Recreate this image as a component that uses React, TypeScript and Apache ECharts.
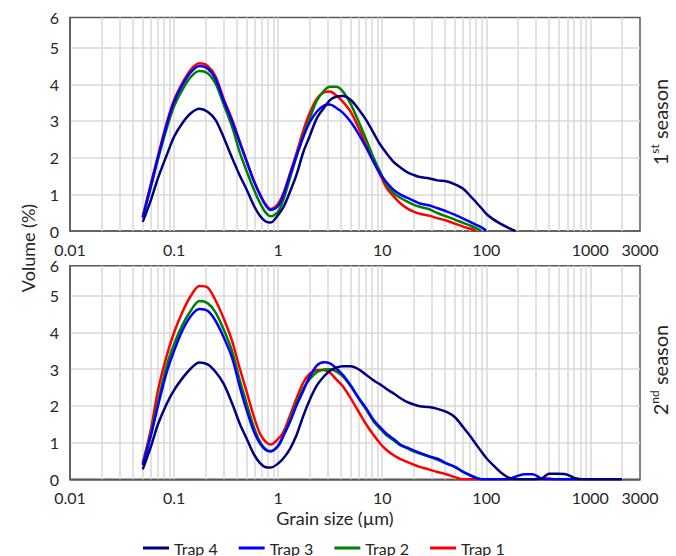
import React, { useEffect, useRef } from "react";
import * as echarts from "echarts";

// Grain sizes (µm) at which curves were read
const sizesSeason1 = [0.05, 0.06, 0.07, 0.085, 0.1, 0.12, 0.145, 0.175, 0.21, 0.25, 0.3, 0.36, 0.43, 0.5, 0.58, 0.67, 0.76, 0.85, 1, 1.13, 1.3, 1.5, 1.75, 2, 2.35, 2.75, 3.15, 3.6, 4.2, 5, 6, 7, 8.3, 9.6, 11, 13, 15, 17.5, 20, 23, 28, 34, 42, 50, 60, 70, 80, 90, 100, 115, 135, 160, 190];
const sizesSeason2 = [0.05, 0.06, 0.07, 0.085, 0.1, 0.12, 0.145, 0.175, 0.21, 0.25, 0.3, 0.36, 0.43, 0.5, 0.58, 0.67, 0.76, 0.85, 1, 1.13, 1.3, 1.5, 1.75, 2, 2.35, 2.75, 3.15, 3.6, 4.2, 5, 6, 7, 8.3, 9.6, 11, 13, 15, 17.5, 20, 23, 28, 34, 42, 50, 60, 70, 80, 90, 100, 115, 135, 160, 190, 230, 280, 340, 400, 480, 580, 700, 850, 1100, 1500, 2000];

// Season 1 volumes (%)
const trap1Season1 = [0.4, 1.3, 2.05, 2.95, 3.57, 4.03, 4.4, 4.57, 4.5, 4.22, 3.6, 3.05, 2.42, 1.9, 1.4, 1.0, 0.72, 0.6, 0.74, 1.05, 1.57, 2.12, 2.75, 3.2, 3.6, 3.78, 3.8, 3.7, 3.52, 3.24, 2.78, 2.36, 1.9, 1.52, 1.18, 0.93, 0.75, 0.61, 0.53, 0.47, 0.42, 0.35, 0.28, 0.2, 0.12, 0.06, 0];
const trap2Season1 = [0.38, 1.2, 1.95, 2.8, 3.4, 3.85, 4.2, 4.36, 4.3, 4.02, 3.45, 2.85, 2.12, 1.62, 1.15, 0.76, 0.5, 0.4, 0.53, 0.87, 1.44, 2.03, 2.62, 3.05, 3.55, 3.82, 3.93, 3.93, 3.8, 3.45, 2.95, 2.5, 1.98, 1.6, 1.27, 1.02, 0.9, 0.8, 0.72, 0.66, 0.6, 0.49, 0.39, 0.31, 0.22, 0.15, 0.08, 0];
const trap3Season1 = [0.36, 1.25, 2.0, 2.9, 3.52, 3.98, 4.33, 4.5, 4.43, 4.15, 3.55, 3.0, 2.39, 1.88, 1.38, 0.98, 0.7, 0.57, 0.68, 1.0, 1.53, 2.05, 2.57, 2.95, 3.25, 3.42, 3.45, 3.36, 3.22, 2.97, 2.62, 2.28, 1.87, 1.55, 1.33, 1.11, 0.99, 0.9, 0.83, 0.75, 0.7, 0.62, 0.53, 0.44, 0.34, 0.25, 0.17, 0.1, 0.01];
const trap4Season1 = [0.25, 0.85, 1.44, 2.07, 2.57, 2.94, 3.21, 3.33, 3.25, 3.03, 2.55, 2.0, 1.5, 1.12, 0.71, 0.41, 0.26, 0.23, 0.44, 0.66, 1.07, 1.53, 2.16, 2.57, 3.07, 3.35, 3.57, 3.66, 3.68, 3.57, 3.3, 3.03, 2.66, 2.35, 2.12, 1.87, 1.73, 1.6, 1.53, 1.47, 1.44, 1.38, 1.35, 1.27, 1.15, 0.96, 0.78, 0.62, 0.47, 0.33, 0.21, 0.1, 0];

// Season 2 volumes (%)
const trap1Season2 = [0.45, 1.38, 2.42, 3.37, 4.0, 4.55, 5.0, 5.27, 5.23, 4.88, 4.38, 3.78, 3.0, 2.37, 1.74, 1.24, 1.02, 0.95, 1.1, 1.3, 1.74, 2.2, 2.64, 2.87, 2.98, 2.98, 2.9, 2.73, 2.53, 2.2, 1.82, 1.5, 1.2, 0.97, 0.8, 0.65, 0.55, 0.47, 0.4, 0.34, 0.27, 0.2, 0.13, 0.06, 0, 0, 0, 0, 0, 0, 0, 0, 0, 0, 0, 0.03, 0.02, 0, 0, 0, 0, 0, 0, 0];
const trap2Season2 = [0.42, 1.25, 2.1, 3.1, 3.68, 4.2, 4.6, 4.86, 4.8, 4.55, 4.08, 3.5, 2.68, 2.05, 1.45, 1.02, 0.82, 0.77, 0.9, 1.2, 1.62, 2.07, 2.48, 2.72, 2.92, 2.99, 3.0, 2.94, 2.8, 2.53, 2.18, 1.9, 1.57, 1.37, 1.2, 1.05, 0.92, 0.84, 0.76, 0.7, 0.62, 0.53, 0.42, 0.33, 0.2, 0.11, 0.04, 0, 0, 0, 0, 0, 0, 0, 0, 0, 0, 0, 0, 0, 0, 0, 0, 0];
const trap3Season2 = [0.38, 1.2, 2.0, 2.92, 3.5, 4.05, 4.45, 4.64, 4.59, 4.32, 3.87, 3.32, 2.5, 1.87, 1.33, 0.97, 0.8, 0.76, 0.92, 1.2, 1.56, 2.01, 2.42, 2.78, 3.1, 3.19, 3.16, 3.03, 2.84, 2.55, 2.2, 1.94, 1.61, 1.41, 1.24, 1.09, 0.94, 0.86, 0.79, 0.72, 0.63, 0.56, 0.43, 0.34, 0.2, 0.11, 0.04, 0, 0, 0, 0, 0, 0.07, 0.14, 0.14, 0.02, 0, 0, 0, 0, 0, 0, 0, 0];
const trap4Season2 = [0.27, 0.9, 1.5, 2.06, 2.43, 2.75, 3.02, 3.18, 3.13, 2.93, 2.6, 2.08, 1.5, 1.1, 0.7, 0.44, 0.33, 0.32, 0.43, 0.58, 0.83, 1.2, 1.74, 2.15, 2.55, 2.8, 2.96, 3.04, 3.08, 3.08, 2.99, 2.85, 2.69, 2.58, 2.46, 2.33, 2.21, 2.1, 2.04, 1.99, 1.97, 1.92, 1.83, 1.69, 1.42, 1.18, 0.95, 0.75, 0.58, 0.4, 0.21, 0.06, 0, 0, 0, 0.02, 0.15, 0.15, 0.14, 0.04, 0, 0, 0, 0];

const legendOrder = ["Trap 4", "Trap 3", "Trap 2", "Trap 1"];
const trapColors: Record<string, string> = {
  "Trap 1": "#ff0000",
  "Trap 2": "#008000",
  "Trap 3": "#0000ff",
  "Trap 4": "#000080",
};

const FONT = "Lato";
const TEXT_COLOR = "#262626";
const GRID_COLOR = "#d9d9d9";
const BORDER_COLOR = "#595959";

function buildOption() {
  const gridXs: number[] = [];
  for (let d = -2; d <= 3; d++) {
    for (let k = 1; k <= 9; k++) {
      const v = parseFloat((k * Math.pow(10, d)).toPrecision(3));
      if (v > 0.01 && v < 3000) gridXs.push(v);
    }
  }

  const grids = [
    { left: 70, top: 17.5, width: 570, height: 213.5, show: true, borderColor: BORDER_COLOR, borderWidth: 1.5, backgroundColor: "transparent" },
    { left: 70, top: 265.7, width: 570, height: 213.6, show: true, borderColor: BORDER_COLOR, borderWidth: 1.5, backgroundColor: "transparent" },
  ];

  const fmtX = (v: number) => (v >= 1 ? String(Math.round(v)) : String(parseFloat(v.toPrecision(1))));

  const xAxes = [0, 1].map((i) => ({
    type: "log",
    logBase: 10,
    gridIndex: i,
    min: 0.01,
    max: 3000,
    axisLine: { show: true, lineStyle: { color: BORDER_COLOR, width: 1.5 } },
    axisTick: { show: false },
    splitLine: { show: false },
    axisLabel: {
      fontFamily: FONT,
      fontSize: 16,
      lineHeight: 14,
      color: TEXT_COLOR,
      margin: 11,
      formatter: fmtX,
      showMinLabel: true,
      showMaxLabel: true,
    },
  }));

  const yAxes = [0, 1].map((i) => ({
    type: "value",
    gridIndex: i,
    min: 0,
    max: 5.82,
    interval: 1,
    axisLine: { show: true, lineStyle: { color: BORDER_COLOR, width: 1.5 } },
    axisTick: { show: false },
    splitLine: {
      show: true,
      showMinLine: false,
      showMaxLine: false,
      lineStyle: { color: GRID_COLOR, width: 1.5 },
    },
    axisLabel: {
      fontFamily: FONT,
      fontSize: 16,
      lineHeight: 12,
      color: TEXT_COLOR,
      margin: 11,
      formatter: (v: number) => String(Math.round(v)),
    },
  }));

  const gridSeries = [0, 1].map((i) => ({
    type: "line",
    xAxisIndex: i,
    yAxisIndex: i,
    data: [],
    silent: true,
    z: 1,
    markLine: {
      z: 1,
      silent: true,
      symbol: ["none", "none"],
      label: { show: false },
      animation: false,
      lineStyle: { color: GRID_COLOR, width: 1.5, type: "solid" },
      emphasis: { disabled: true },
      data: gridXs.map((x) => ({ xAxis: x })),
    },
  }));

  const mk = (name: string, sizes: number[], vals: number[], gi: number) => ({
    name,
    type: "line",
    xAxisIndex: gi,
    yAxisIndex: gi,
    data: vals.map((v, i) => [sizes[i], v]),
    smooth: 0.3,
    symbol: "none",
    showSymbol: false,
    silent: true,
    z: 6,
    lineStyle: { color: trapColors[name], width: 2.5 },
    itemStyle: { color: trapColors[name] },
    emphasis: { disabled: true },
  });

  const series = [
    ...gridSeries,
    mk("Trap 1", sizesSeason1, trap1Season1, 0),
    mk("Trap 2", sizesSeason1, trap2Season1, 0),
    mk("Trap 3", sizesSeason1, trap3Season1, 0),
    mk("Trap 4", sizesSeason1, trap4Season1, 0),
    mk("Trap 1", sizesSeason2, trap1Season2, 1),
    mk("Trap 2", sizesSeason2, trap2Season2, 1),
    mk("Trap 3", sizesSeason2, trap3Season2, 1),
    mk("Trap 4", sizesSeason2, trap4Season2, 1),
  ];

  const rotatedTitle = (x: number, y: number, main: string, sup: string, rest: string) => ({
    type: "text",
    x,
    y,
    rotation: Math.PI / 2,
    style: {
      text: `{a|${main}}{s|${sup}}{a|${rest}}`,
      align: "center",
      verticalAlign: "middle",
      textAlign: "center",
      textVerticalAlign: "middle",
      rich: {
        a: { fontFamily: FONT, fontSize: 20, fill: TEXT_COLOR, lineHeight: 22, verticalAlign: "bottom" },
        s: { fontFamily: FONT, fontSize: 12, fill: TEXT_COLOR, lineHeight: 22, verticalAlign: "top" },
      },
    },
  });

  return {
    animation: false,
    backgroundColor: "#ffffff",
    textStyle: { fontFamily: FONT },
    grid: grids,
    xAxis: xAxes,
    yAxis: yAxes,
    legend: {
      data: legendOrder,
      left: 143,
      top: 540,
      padding: 0,
      icon: "rect",
      itemWidth: 26,
      itemHeight: 3,
      itemGap: 21,
      selectedMode: false,
      textStyle: { fontFamily: FONT, fontSize: 16, color: TEXT_COLOR, lineHeight: 16 },
    },
    graphic: [
      {
        type: "text",
        x: 28,
        y: 248,
        rotation: Math.PI / 2,
        style: {
          text: "Volume (%)",
          font: `18px ${FONT}`,
          fill: TEXT_COLOR,
          align: "center",
          verticalAlign: "middle",
          textAlign: "center",
          textVerticalAlign: "middle",
        },
      },
      {
        type: "text",
        x: 335,
        y: 518,
        style: {
          text: "Grain size (µm)",
          font: `18px ${FONT}`,
          fill: TEXT_COLOR,
          align: "center",
          verticalAlign: "middle",
          textAlign: "center",
          textVerticalAlign: "middle",
        },
      },
      rotatedTitle(659, 122, "1", "st", " season"),
      rotatedTitle(659, 370, "2", "nd", " season"),
    ],
    series,
  };
}

export default function App() {
  const ref = useRef<HTMLDivElement>(null);
  useEffect(() => {
    if (!ref.current) return;
    const chart = echarts.init(ref.current, undefined, { renderer: "svg" });
    chart.setOption(buildOption() as any);
    return () => chart.dispose();
  }, []);
  return (
    <div
      ref={ref}
      style={{ position: "fixed", left: 0, top: 0, width: 676, height: 556, background: "#fff" }}
    />
  );
}
